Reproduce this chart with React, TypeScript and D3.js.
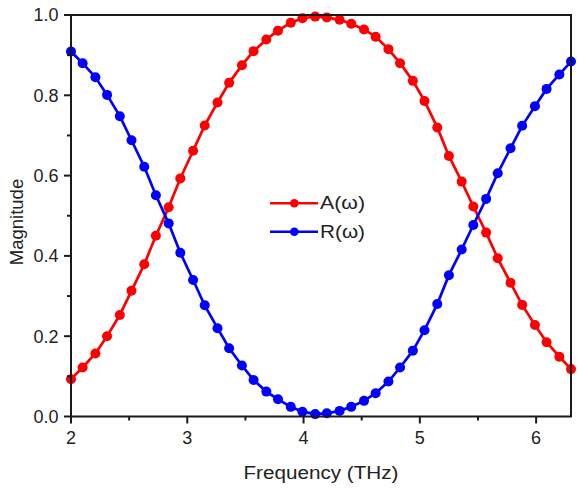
import React from "react";
import * as d3 from "d3";

const frequency = [
  2.0, 2.1, 2.21, 2.31, 2.42, 2.52, 2.63, 2.73, 2.84, 2.94,
  3.05, 3.15, 3.26, 3.36, 3.47, 3.57, 3.68, 3.78, 3.89, 3.99,
  4.1, 4.2, 4.31, 4.41, 4.52, 4.62, 4.73, 4.83, 4.94, 5.04,
  5.15, 5.25, 5.36, 5.46, 5.57, 5.67, 5.78, 5.88, 5.99, 6.09,
  6.2, 6.3,
];

const absorption = [
  0.093, 0.122, 0.157, 0.2, 0.253, 0.313, 0.379, 0.45, 0.521, 0.593,
  0.662, 0.725, 0.782, 0.831, 0.875, 0.91, 0.939, 0.961, 0.981, 0.992,
  0.996, 0.994, 0.988, 0.978, 0.964, 0.946, 0.915, 0.88, 0.836, 0.786,
  0.72, 0.649, 0.585, 0.523, 0.458, 0.394, 0.333, 0.278, 0.228, 0.185,
  0.149, 0.118,
];

const reflection = [
  0.909, 0.88, 0.845, 0.801, 0.748, 0.688, 0.622, 0.551, 0.481, 0.408,
  0.34, 0.277, 0.22, 0.17, 0.127, 0.091, 0.062, 0.043, 0.024, 0.012,
  0.006, 0.008, 0.014, 0.024, 0.039, 0.058, 0.087, 0.122, 0.164, 0.215,
  0.28, 0.352, 0.416, 0.477, 0.542, 0.606, 0.668, 0.724, 0.773, 0.816,
  0.852, 0.884,
];

const xTicks = [2, 3, 4, 5, 6];
const xMinorTicks = [2.5, 3.5, 4.5, 5.5];
const yTicks = [0, 0.2, 0.4, 0.6, 0.8, 1.0];
const yMinorTicks = [0.1, 0.3, 0.5, 0.7, 0.9];

const seriesNames = ["A(\u03c9)", "R(\u03c9)"];
const seriesColors = ["#ff0000", "#0000ff"];

export default function App() {
  const W = 579;
  const H = 488;
  const left = 71;
  const right = 571;
  const top = 15;
  const bottom = 416.5;

  const x = d3.scaleLinear().domain([2, 6.3]).range([left, right]);
  const y = d3.scaleLinear().domain([0, 1]).range([bottom, top]);

  const line = d3
    .line<[number, number]>()
    .x((d) => x(d[0]))
    .y((d) => y(d[1]));

  const series = [absorption, reflection].map((vals) =>
    frequency.map((f, i) => [f, vals[i]] as [number, number])
  );

  const axisColor = "#1a1a1a";
  const font = "Arial, 'Liberation Sans', sans-serif";

  return (
    <svg
      width={W}
      height={H}
      style={{ position: "absolute", left: 0, top: 0, background: "#fff" }}
      fontFamily={font}
    >
      <rect x={0} y={0} width={W} height={H} fill="#fff" />
      <defs>
        <clipPath id="plotClip">
          <rect x={left - 6} y={top - 6} width={right - left + 12} height={bottom - top + 12} />
        </clipPath>
      </defs>

      {/* data */}
      <g clipPath="url(#plotClip)">
        {series.map((pts, si) => (
          <g key={si}>
            <path d={line(pts) || ""} fill="none" stroke={seriesColors[si]} strokeWidth={2.7} />
            {pts.map((p, i) => (
              <circle key={i} cx={x(p[0])} cy={y(p[1])} r={5} fill={seriesColors[si]} />
            ))}
          </g>
        ))}
      </g>

      {/* frame */}
      <rect
        x={left}
        y={top}
        width={right - left}
        height={bottom - top}
        fill="none"
        stroke={axisColor}
        strokeWidth={2}
      />

      {/* x ticks */}
      {xTicks.map((t) => (
        <g key={"xt" + t}>
          <line x1={x(t)} x2={x(t)} y1={bottom} y2={bottom + 7} stroke={axisColor} strokeWidth={2} />
          <text x={x(t)} y={444} fontSize={18} textAnchor="middle" fill="#222">
            {t}
          </text>
        </g>
      ))}
      {xMinorTicks.map((t) => (
        <line key={"xm" + t} x1={x(t)} x2={x(t)} y1={bottom} y2={bottom + 4} stroke={axisColor} strokeWidth={2} />
      ))}

      {/* y ticks */}
      {yTicks.map((t) => (
        <g key={"yt" + t}>
          <line x1={left - 7} x2={left} y1={y(t)} y2={y(t)} stroke={axisColor} strokeWidth={2} />
          <text x={58.5} y={y(t) + 6.3} fontSize={18} textAnchor="end" fill="#222">
            {t.toFixed(1)}
          </text>
        </g>
      ))}
      {yMinorTicks.map((t) => (
        <line key={"ym" + t} x1={left - 4} x2={left} y1={y(t)} y2={y(t)} stroke={axisColor} strokeWidth={2} />
      ))}

      {/* axis titles */}
      <text
        x={(left + right) / 2}
        y={479}
        fontSize={18}
        textAnchor="middle"
        fill="#222"
        textLength={155}
        lengthAdjust="spacingAndGlyphs"
      >
        Frequency (THz)
      </text>
      <text
        transform={`translate(23, 222) rotate(-90)`}
        fontSize={18.5}
        textAnchor="middle"
        fill="#222"
      >
        Magnitude
      </text>

      {/* legend */}
      {seriesNames.map((name, i) => {
        const ly = 203.3 + i * 28.4;
        return (
          <g key={name}>
            <line x1={270} x2={318} y1={ly} y2={ly} stroke={seriesColors[i]} strokeWidth={2.6} />
            <circle cx={294.3} cy={ly} r={4.3} fill={seriesColors[i]} />
            <text x={320} y={ly + 6} fontSize={17.5} fill="#222" textLength={45} lengthAdjust="spacingAndGlyphs">
              {name}
            </text>
          </g>
        );
      })}
    </svg>
  );
}
